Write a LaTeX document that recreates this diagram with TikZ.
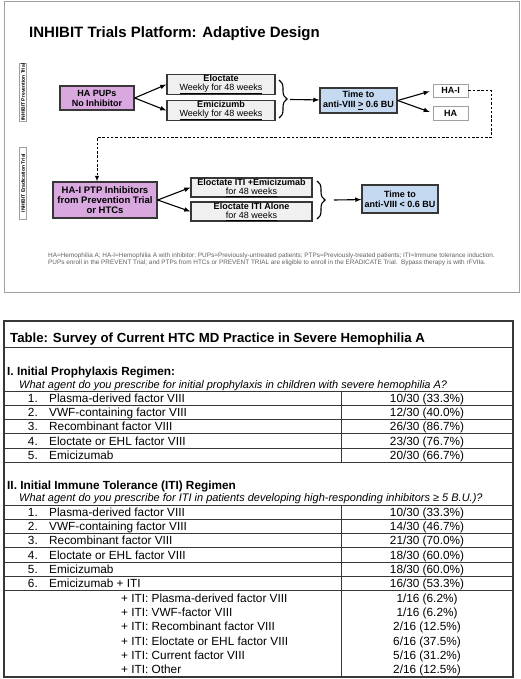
\documentclass[tikz,border=0pt]{standalone}
\usepackage{fontspec}
\setmainfont{Liberation Sans}
\usetikzlibrary{decorations.pathreplacing}
\tikzset{>=latex}
\definecolor{pupfill}{RGB}{216,168,223}
\definecolor{timefill}{RGB}{197,217,241}
\definecolor{armfill}{RGB}{240,240,240}
\definecolor{slidegrey}{RGB}{160,160,160}
\definecolor{boxline}{RGB}{55,55,55}
\definecolor{notegrey}{RGB}{95,95,95}
\newcommand{\setsz}[2]{\fontsize{#1}{#2}\selectfont}

\begin{document}
\begin{tikzpicture}[x=1pt,y=-1pt]
\useasboundingbox (0,0) rectangle (520,679);

% slide with the trial design
\draw[slidegrey,line width=1pt] (4,1.5) rectangle (519,292);
\node[anchor=base west,inner sep=0pt,font=\setsz{15}{16}\bfseries] (title) at (29,37.5) {INHIBIT Trials Platform: Adaptive Design};

\begin{scope}[every node/.style={draw=slidegrey,line width=0.6pt,rotate=90,inner sep=0.5pt,minimum height=6.5pt,font=\setsz{5}{5}\bfseries}]
\node[minimum width=56pt] (prevlab) at (23,92) {INHIBIT Prevention Trial};
\node[minimum width=72pt] (eradlab) at (23,183) {INHIBIT Eradication Trial};
\end{scope}

\begin{scope}[every node/.style={draw=boxline,line width=1.3pt,align=center,inner sep=0pt,font=\setsz{9}{10}\bfseries}]
\node[fill=pupfill,minimum width=74pt,minimum height=24pt] (pups) at (97,98) {HA PUPs\\No Inhibitor};
\node[fill=armfill,minimum width=108pt,minimum height=19pt,font=\setsz{9}{9}] (eloc) at (221,84.5) {\textbf{Eloctate}\\\underline{Weekly for 48 weeks}};
\node[fill=armfill,minimum width=108pt,minimum height=19pt,font=\setsz{9}{9}] (emic) at (221,110.5) {\textbf{Emicizumb}\\\underline{Weekly for 48 weeks}};
\node[fill=timefill,minimum width=77pt,minimum height=25pt] (time1) at (358.5,100.5) {Time to\\anti-VIII \underline{>} 0.6 BU};
\node[draw=slidegrey,line width=0.8pt,minimum width=35pt,minimum height=13pt] (hai) at (450.5,90.5) {HA-I};
\node[draw=slidegrey,line width=0.8pt,minimum width=35pt,minimum height=14pt] (ha) at (450.5,113) {HA};

\node[fill=pupfill,minimum width=104pt,minimum height=36pt,font=\setsz{9.5}{10}\bfseries] (ptp) at (105,200) {HA-I PTP Inhibitors\\from Prevention Trial\\or HTCs};
\node[fill=armfill,minimum width=121pt,minimum height=19pt,font=\setsz{9}{9}] (itiemi) at (251.5,187.5) {\textbf{Eloctate ITI +Emicizumab}\\\underline{for 48 weeks}};
\node[fill=armfill,minimum width=121pt,minimum height=19pt,font=\setsz{9}{9}] (itialone) at (251.5,211.5) {\textbf{Eloctate ITI Alone}\\\underline{for 48 weeks}};
\node[fill=timefill,minimum width=76pt,minimum height=28pt] (time2) at (400,199) {Time to\\anti-VIII < 0.6 BU};
\end{scope}

\coordinate (tip1) at (290,99.5);
\coordinate (tip2) at (334,200);
\coordinate (turn) at (491,137.5);
\coordinate (drop) at (97,137.5);

\draw[line width=1.1pt,decorate,decoration={brace,amplitude=8pt}] (279,80) -- (279,118);
\draw[line width=1.1pt,decorate,decoration={brace,amplitude=8pt}] (317,181) -- (317,219);

\begin{scope}[every edge/.style={draw=black,line width=1.1pt}]
    \path [->] (pups.east) edge (eloc.west);
    \path [->] (pups.east) edge (emic.west);
    \path [->] (tip1) edge (time1);
    \path [->,shorten >=3pt] (time1.east) edge (hai.west);
    \path [->,shorten >=3pt] (time1.east) edge (ha.west);

    \path [->] (ptp.east) edge (itiemi.west);
    \path [->] (ptp.east) edge (itialone.west);
    \path [->] (tip2) edge (time2);
\end{scope}

\draw[line width=0.9pt,dash pattern=on 2.5pt off 1.8pt,->] (hai.east) -| (turn) -- (drop) -- (drop |- ptp.north);

\begin{scope}[every node/.style={anchor=base west,inner sep=0pt,text=notegrey,font=\setsz{6.4}{7}}]
\node (note1) at (48,257) {HA=Hemophilia A; HA-I=Hemophilia A with inhibitor; PUPs=Previously-untreated patients; PTPs=Previously-treated patients; ITI=Immune tolerance induction.};
\node (note2) at (48,264.5) {PUPs enroll in the PREVENT Trial; and PTPs from HTCs or PREVENT TRIAL are eligible to enroll in the ERADICATE Trial.\ \ Bypass therapy is with rFVIIa.};
\end{scope}

% survey table
\draw[boxline,line width=1.3pt] (4,321) rectangle (513,677);
\draw[boxline,line width=0.9pt] (4,347) -- (513,347);
\foreach \k in {0,...,5}
  \draw[boxline,line width=0.9pt] (4,{391+\k*14.3}) -- (513,{391+\k*14.3});
\foreach \k in {0,...,6}
  \draw[boxline,line width=0.9pt] (4,{505+\k*14.3}) -- (513,{505+\k*14.3});
\draw[boxline,line width=0.9pt] (341,391) -- (341,462.5);
\draw[boxline,line width=0.9pt] (341,505) -- (341,677);

\begin{scope}[every node/.style={anchor=base west,inner sep=0pt,font=\setsz{11.8}{12}}]
\node[font=\setsz{13.2}{14}\bfseries] (tabtitle) at (10,342.7) {Table: Survey of Current HTC MD Practice in Severe Hemophilia A};
\node[font=\setsz{11.8}{12}\bfseries] (proph) at (7,375.3) {I. Initial Prophylaxis Regimen:};
\node[font=\setsz{11}{12}\itshape] (prophq) at (19,388) {What agent do you prescribe for initial prophylaxis in children with severe hemophilia A?};
\node[font=\setsz{11.8}{12}\bfseries] (iti) at (7,489.3) {II. Initial Immune Tolerance (ITI) Regimen};
\node[font=\setsz{11}{12}\itshape] (itiq) at (19,501.9) {What agent do you prescribe for ITI in patients developing high-responding inhibitors ≥ 5 B.U.)?};

\foreach \i/\txt/\num/\pct in {1/Plasma-derived factor VIII/10/33.3, 2/VWF-containing factor VIII/12/40.0, 3/Recombinant factor VIII/26/86.7, 4/Eloctate or EHL factor VIII/23/76.7, 5/Emicizumab/20/66.7}
{
  \node[anchor=base east] (pn\i) at (38,{388.05+\i*14.3}) {\i.};
  \node (pt\i) at (49,{388.05+\i*14.3}) {\txt};
  \node[anchor=base] (pv\i) at (427,{388.05+\i*14.3}) {\num/30 (\pct\%)};
}

\foreach \i/\txt/\num/\pct in {1/Plasma-derived factor VIII/10/33.3, 2/VWF-containing factor VIII/14/46.7, 3/Recombinant factor VIII/21/70.0, 4/Eloctate or EHL factor VIII/18/60.0, 5/Emicizumab/18/60.0, 6/Emicizumab + ITI/16/53.3}
{
  \node[anchor=base east] (tn\i) at (38,{502.05+\i*14.3}) {\i.};
  \node (tt\i) at (49,{502.05+\i*14.3}) {\txt};
  \node[anchor=base] (tv\i) at (427,{502.05+\i*14.3}) {\num/30 (\pct\%)};
}

\foreach \j/\txt/\num/\pct in {1/Plasma-derived factor VIII/1/6.2, 2/VWF-factor VIII/1/6.2, 3/Recombinant factor VIII/2/12.5, 4/Eloctate or EHL factor VIII/6/37.5, 5/Current factor VIII/5/31.2, 6/Other/2/12.5}
{
  \node (st\j) at (121,{587.85+\j*14.3}) {+ ITI: \txt};
  \node[anchor=base] (sv\j) at (427,{587.85+\j*14.3}) {\num/16 (\pct\%)};
}
\end{scope}
\end{tikzpicture}
\end{document}
